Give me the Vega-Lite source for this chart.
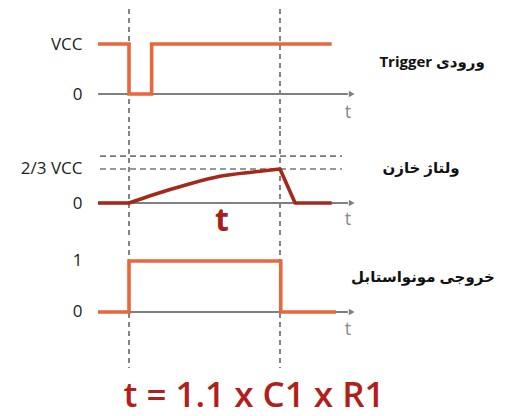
{
  "$schema": "https://vega.github.io/schema/vega-lite/v6.json",
  "padding": {"left": 5, "top": 8, "right": 0, "bottom": 0},
  "autosize": {"type": "pad"},
  "spacing": 0,
  "background": "white",
  "config": {
    "view": {"stroke": null},
    "axis": {
      "domain": false,
      "ticks": false,
      "grid": false,
      "title": null,
      "labelFont": "Open Sans",
      "labelFontSize": 17,
      "labelColor": "#222222",
      "labelPadding": 8,
      "minExtent": 85,
      "maxExtent": 85
    }
  },
  "datasets": {
    "markers": [{"t": 0}, {"t": 10}],
    "baseline": [{"t": -2.05, "t2": 14.5, "v": 0}],
    "arrow": [{"t": 14.75, "v": 0}],
    "trigger": [
      {"i": 0, "t": -2.05, "v": 1},
      {"i": 1, "t": 0, "v": 1},
      {"i": 2, "t": 0, "v": 0},
      {"i": 3, "t": 1.5, "v": 0},
      {"i": 4, "t": 1.5, "v": 1},
      {"i": 5, "t": 13.42, "v": 1}
    ],
    "capacitor": [
      {"i": 0, "phase": "rest", "t": -2.05, "v": 0},
      {"i": 1, "phase": "rest", "t": 0, "v": 0},
      {"i": 2, "phase": "charge", "t": 0, "v": 0},
      {"i": 3, "phase": "charge", "t": 1.61, "v": 0.163},
      {"i": 4, "phase": "charge", "t": 3.82, "v": 0.359},
      {"i": 5, "phase": "charge", "t": 6.03, "v": 0.523},
      {"i": 6, "phase": "charge", "t": 8.23, "v": 0.608},
      {"i": 7, "phase": "charge", "t": 10, "v": 0.667},
      {"i": 8, "phase": "discharge", "t": 10, "v": 0.667},
      {"i": 9, "phase": "discharge", "t": 11, "v": 0},
      {"i": 10, "phase": "discharge", "t": 13.42, "v": 0}
    ],
    "output": [
      {"i": 0, "t": -2.05, "v": 0},
      {"i": 1, "t": 0, "v": 0},
      {"i": 2, "t": 0, "v": 1},
      {"i": 3, "t": 10.05, "v": 1},
      {"i": 4, "t": 10.05, "v": 0},
      {"i": 5, "t": 13.7, "v": 0}
    ],
    "thresholds": [
      {"t": -1.92, "t2": 14.1, "v": 0.92},
      {"t": -1.92, "t2": 14.1, "v": 0.667}
    ]
  },
  "vconcat": [
    {
      "width": 416,
      "height": 120,
      "layer": [
        {
          "data": {"name": "markers"},
          "mark": {"type": "rule", "color": "#777777", "strokeWidth": 1.8, "strokeDash": [5, 4]},
          "encoding": {
            "x": {"field": "t", "type": "quantitative", "scale": {"domain": [-2.583, 24.967], "nice": false, "zero": false}, "axis": null}
          }
        },
        {
          "data": {"name": "baseline"},
          "mark": {"type": "rule", "color": "#808080", "strokeWidth": 2},
          "encoding": {
            "x": {"field": "t", "type": "quantitative", "axis": null},
            "x2": {"field": "t2"},
            "y": {"field": "v", "type": "quantitative", "scale": {"domain": [-0.7, 1.7], "nice": false, "zero": false}, "axis": {"values": [0, 1], "labelExpr": "datum.value == 0 ? '0' : 'VCC'"}}
          }
        },
        {
          "data": {"name": "arrow"},
          "mark": {"type": "point", "shape": "triangle-right", "filled": true, "color": "#808080", "size": 45, "opacity": 1},
          "encoding": {
            "x": {"field": "t", "type": "quantitative"},
            "y": {"field": "v", "type": "quantitative"}
          }
        },
        {
          "data": {"name": "trigger"},
          "mark": {"type": "line", "color": "#e8673d", "strokeWidth": 3.6, "strokeJoin": "miter", "strokeCap": "butt"},
          "encoding": {
            "x": {"field": "t", "type": "quantitative"},
            "y": {"field": "v", "type": "quantitative"},
            "order": {"field": "i"}
          }
        },
        {
          "data": {"values": [{"t": 14.5, "v": -0.38, "label": "t"}]},
          "mark": {"type": "text", "font": "Open Sans", "fontSize": 18, "color": "#8a8a8a"},
          "encoding": {
            "x": {"field": "t", "type": "quantitative"},
            "y": {"field": "v", "type": "quantitative"},
            "text": {"field": "label"}
          }
        },
        {
          "data": {"values": [{"t": 20.07, "v": 0.64, "label": "Trigger ورودی"}]},
          "mark": {"type": "text", "font": "Open Sans, DejaVu Sans", "fontSize": 15, "fontWeight": "bold", "color": "#111111"},
          "encoding": {
            "x": {"field": "t", "type": "quantitative"},
            "y": {"field": "v", "type": "quantitative"},
            "text": {"field": "label"}
          }
        }
      ]
    },
    {
      "width": 416,
      "height": 108,
      "layer": [
        {
          "data": {"name": "markers"},
          "mark": {"type": "rule", "color": "#777777", "strokeWidth": 1.8, "strokeDash": [5, 4]},
          "encoding": {
            "x": {"field": "t", "type": "quantitative", "scale": {"domain": [-2.583, 24.967], "nice": false, "zero": false}, "axis": null}
          }
        },
        {
          "data": {"name": "thresholds"},
          "mark": {"type": "rule", "color": "#777777", "strokeWidth": 1.6, "strokeDash": [6, 4]},
          "encoding": {
            "x": {"field": "t", "type": "quantitative", "axis": null},
            "x2": {"field": "t2"},
            "y": {"field": "v", "type": "quantitative", "scale": {"domain": [-0.706, 1.412], "nice": false, "zero": false}, "axis": {"values": [0, 0.667], "labelExpr": "datum.value == 0 ? '0' : '2/3 VCC'"}}
          }
        },
        {
          "data": {"name": "baseline"},
          "mark": {"type": "rule", "color": "#808080", "strokeWidth": 2},
          "encoding": {
            "x": {"field": "t", "type": "quantitative"},
            "x2": {"field": "t2"},
            "y": {"field": "v", "type": "quantitative"}
          }
        },
        {
          "data": {"name": "arrow"},
          "mark": {"type": "point", "shape": "triangle-right", "filled": true, "color": "#808080", "size": 45, "opacity": 1},
          "encoding": {
            "x": {"field": "t", "type": "quantitative"},
            "y": {"field": "v", "type": "quantitative"}
          }
        },
        {
          "data": {"name": "capacitor"},
          "transform": [{"filter": "datum.phase != 'charge'"}],
          "mark": {"type": "line", "color": "#a3291c", "strokeWidth": 3.6, "strokeJoin": "round", "strokeCap": "butt"},
          "encoding": {
            "x": {"field": "t", "type": "quantitative"},
            "y": {"field": "v", "type": "quantitative"},
            "detail": {"field": "phase"},
            "order": {"field": "i"}
          }
        },
        {
          "data": {"name": "capacitor"},
          "transform": [{"filter": "datum.phase == 'charge'"}],
          "mark": {"type": "line", "color": "#a3291c", "strokeWidth": 3.6, "strokeCap": "round", "interpolate": "monotone"},
          "encoding": {
            "x": {"field": "t", "type": "quantitative"},
            "y": {"field": "v", "type": "quantitative"},
            "order": {"field": "i"}
          }
        },
        {
          "data": {"values": [{"t": 14.5, "v": -0.33, "label": "t"}]},
          "mark": {"type": "text", "font": "Open Sans", "fontSize": 18, "color": "#8a8a8a"},
          "encoding": {
            "x": {"field": "t", "type": "quantitative"},
            "y": {"field": "v", "type": "quantitative"},
            "text": {"field": "label"}
          }
        },
        {
          "data": {"values": [{"t": 6.16, "v": -0.36, "label": "t"}]},
          "mark": {"type": "text", "font": "Open Sans", "fontSize": 32, "fontWeight": "bold", "color": "#a8201a"},
          "encoding": {
            "x": {"field": "t", "type": "quantitative"},
            "y": {"field": "v", "type": "quantitative"},
            "text": {"field": "label"}
          }
        },
        {
          "data": {"values": [{"t": 19.34, "v": 0.69, "label": "ولتاژ خازن"}]},
          "mark": {"type": "text", "font": "Open Sans, DejaVu Sans", "fontSize": 15, "fontWeight": "bold", "color": "#111111"},
          "encoding": {
            "x": {"field": "t", "type": "quantitative"},
            "y": {"field": "v", "type": "quantitative"},
            "text": {"field": "label"}
          }
        }
      ]
    },
    {
      "width": 416,
      "height": 127,
      "layer": [
        {
          "data": {"name": "markers"},
          "mark": {"type": "rule", "color": "#777777", "strokeWidth": 1.8, "strokeDash": [5, 4]},
          "encoding": {
            "x": {"field": "t", "type": "quantitative", "scale": {"domain": [-2.583, 24.967], "nice": false, "zero": false}, "axis": null}
          }
        },
        {
          "data": {"name": "baseline"},
          "mark": {"type": "rule", "color": "#808080", "strokeWidth": 2},
          "encoding": {
            "x": {"field": "t", "type": "quantitative", "axis": null},
            "x2": {"field": "t2"},
            "y": {"field": "v", "type": "quantitative", "scale": {"domain": [-1.098, 1.392], "nice": false, "zero": false}, "axis": {"values": [0, 1], "labelExpr": "datum.value == 0 ? '0' : '1'"}}
          }
        },
        {
          "data": {"name": "arrow"},
          "mark": {"type": "point", "shape": "triangle-right", "filled": true, "color": "#808080", "size": 45, "opacity": 1},
          "encoding": {
            "x": {"field": "t", "type": "quantitative"},
            "y": {"field": "v", "type": "quantitative"}
          }
        },
        {
          "data": {"name": "output"},
          "mark": {"type": "line", "color": "#e8673d", "strokeWidth": 3.6, "strokeJoin": "miter", "strokeCap": "butt"},
          "encoding": {
            "x": {"field": "t", "type": "quantitative"},
            "y": {"field": "v", "type": "quantitative"},
            "order": {"field": "i"}
          }
        },
        {
          "data": {"values": [{"t": 14.5, "v": -0.35, "label": "t"}]},
          "mark": {"type": "text", "font": "Open Sans", "fontSize": 18, "color": "#8a8a8a"},
          "encoding": {
            "x": {"field": "t", "type": "quantitative"},
            "y": {"field": "v", "type": "quantitative"},
            "text": {"field": "label"}
          }
        },
        {
          "data": {"values": [{"t": 19.47, "v": 0.69, "label": "خروجی مونواستابل"}]},
          "mark": {"type": "text", "font": "Open Sans, DejaVu Sans", "fontSize": 15, "fontWeight": "bold", "color": "#111111"},
          "encoding": {
            "x": {"field": "t", "type": "quantitative"},
            "y": {"field": "v", "type": "quantitative"},
            "text": {"field": "label"}
          }
        }
      ]
    },
    {
      "width": 416,
      "height": 53,
      "data": {"values": [{"t": 8.28, "v": 0.29, "label": "t = 1.1 x C1 x R1"}]},
      "mark": {"type": "text", "font": "Open Sans", "fontSize": 35, "fontWeight": 600, "color": "#b01f1c", "baseline": "alphabetic", "align": "center"},
      "encoding": {
        "x": {"field": "t", "type": "quantitative", "scale": {"domain": [-2.583, 24.967], "nice": false, "zero": false}, "axis": null},
        "y": {"field": "v", "type": "quantitative", "scale": {"domain": [0, 1], "nice": false, "zero": false}, "axis": null},
        "text": {"field": "label"}
      }
    }
  ]
}
